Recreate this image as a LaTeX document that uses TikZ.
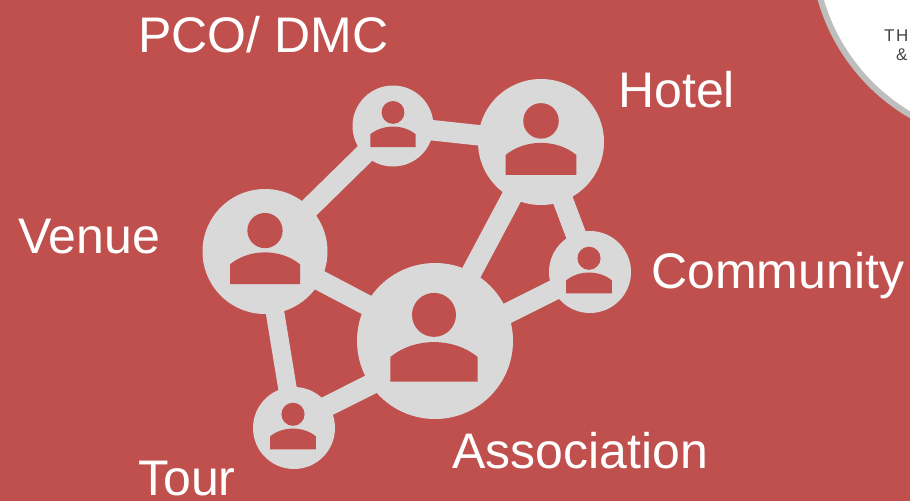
\documentclass[tikz,border=0pt]{standalone}
\usepackage{fontspec}
\setmainfont{Liberation Sans}
\usetikzlibrary{positioning, calc}
\definecolor{slidered}{RGB}{192,80,77}
\definecolor{netgray}{RGB}{217,217,217}
\definecolor{logoring}{RGB}{190,190,190}
\definecolor{logotext}{RGB}{70,70,70}

\begin{document}
\begin{tikzpicture}[x=1pt, y=-1pt]
    % Define styles
    \tikzstyle{member} = [circle, fill=netgray, inner sep=0pt]
    \tikzstyle{link} = [draw=netgray, line width=20.5pt, shorten <=-5pt, shorten >=-5pt]
    \tikzstyle{tag} = [text=white, anchor=base west, inner sep=0pt, font=\fontsize{50}{60}\selectfont]
    \tikzstyle{logotag} = [text=logotext, anchor=base west, inner sep=0pt, font=\fontsize{17}{20}\selectfont]
    \tikzset{person/.pic={
        \fill[slidered] (0,-0.335) circle (0.282);
        \fill[slidered] (-0.56,0.52) -- (-0.56,0.205) .. controls (-0.25,-0.05) and (0.25,-0.05) .. (0.56,0.205) -- (0.56,0.52) -- cycle;
    }}

    % Background and logo corner
    \fill[slidered] (0,0) rectangle (910,501);
    \clip (0,0) rectangle (910,501);
    \fill[white, draw=logoring, line width=6pt] (1010,-55) circle (197);
    \node[logotag] (logo1) at (884,41) {T\kern1.5pt H};
    \node[logotag] (logo2) at (896,60) {\&};

    % Circles
    \node[member, minimum size=156pt] (assoc) at (435,341) {};
    \node[member, minimum size=126pt] (hotel) at (541,142) {};
    \node[member, minimum size=125pt] (venue) at (265,251.5) {};
    \node[member, minimum size=81pt] (pco) at (393,126) {};
    \node[member, minimum size=82pt] (comm) at (590,272) {};
    \node[member, minimum size=82pt] (tour) at (294,428) {};

    % Connectors
    \draw[link] (venue) -- (pco);
    \draw[link] (pco) -- (hotel);
    \draw[link] (hotel) -- (assoc);
    \draw[link] (hotel) -- (comm);
    \draw[link] (venue) -- (assoc);
    \draw[link, line width=18.5pt] (venue) -- (tour);
    \draw[link] (assoc.21) -- (comm);
    \draw[link] (tour.33) -- (assoc.214);

    % People inside the circles
    \pic[scale=78] at ($(assoc)+(-1,0)$) {person};
    \pic[scale=63] at (hotel) {person};
    \pic[scale=62.5] at (venue) {person};
    \pic[scale=40.5] at (pco) {person};
    \pic[scale=41] at ($(comm)+(-1,0)$) {person};
    \pic[scale=41] at ($(tour)+(-1,0)$) {person};

    % Labels
    \node[tag] (pcolabel) at (138,52) {PCO/ DMC};
    \node[tag] (hotellabel) at (618,107) {Hotel};
    \node[tag] (venuelabel) at (18,253) {Venue};
    \node[tag] (commlabel) at (651,288) {Community};
    \node[tag] (assoclabel) at (452,468) {Association};
    \node[tag] (tourlabel) at (138,495) {Tour};
\end{tikzpicture}
\end{document}
